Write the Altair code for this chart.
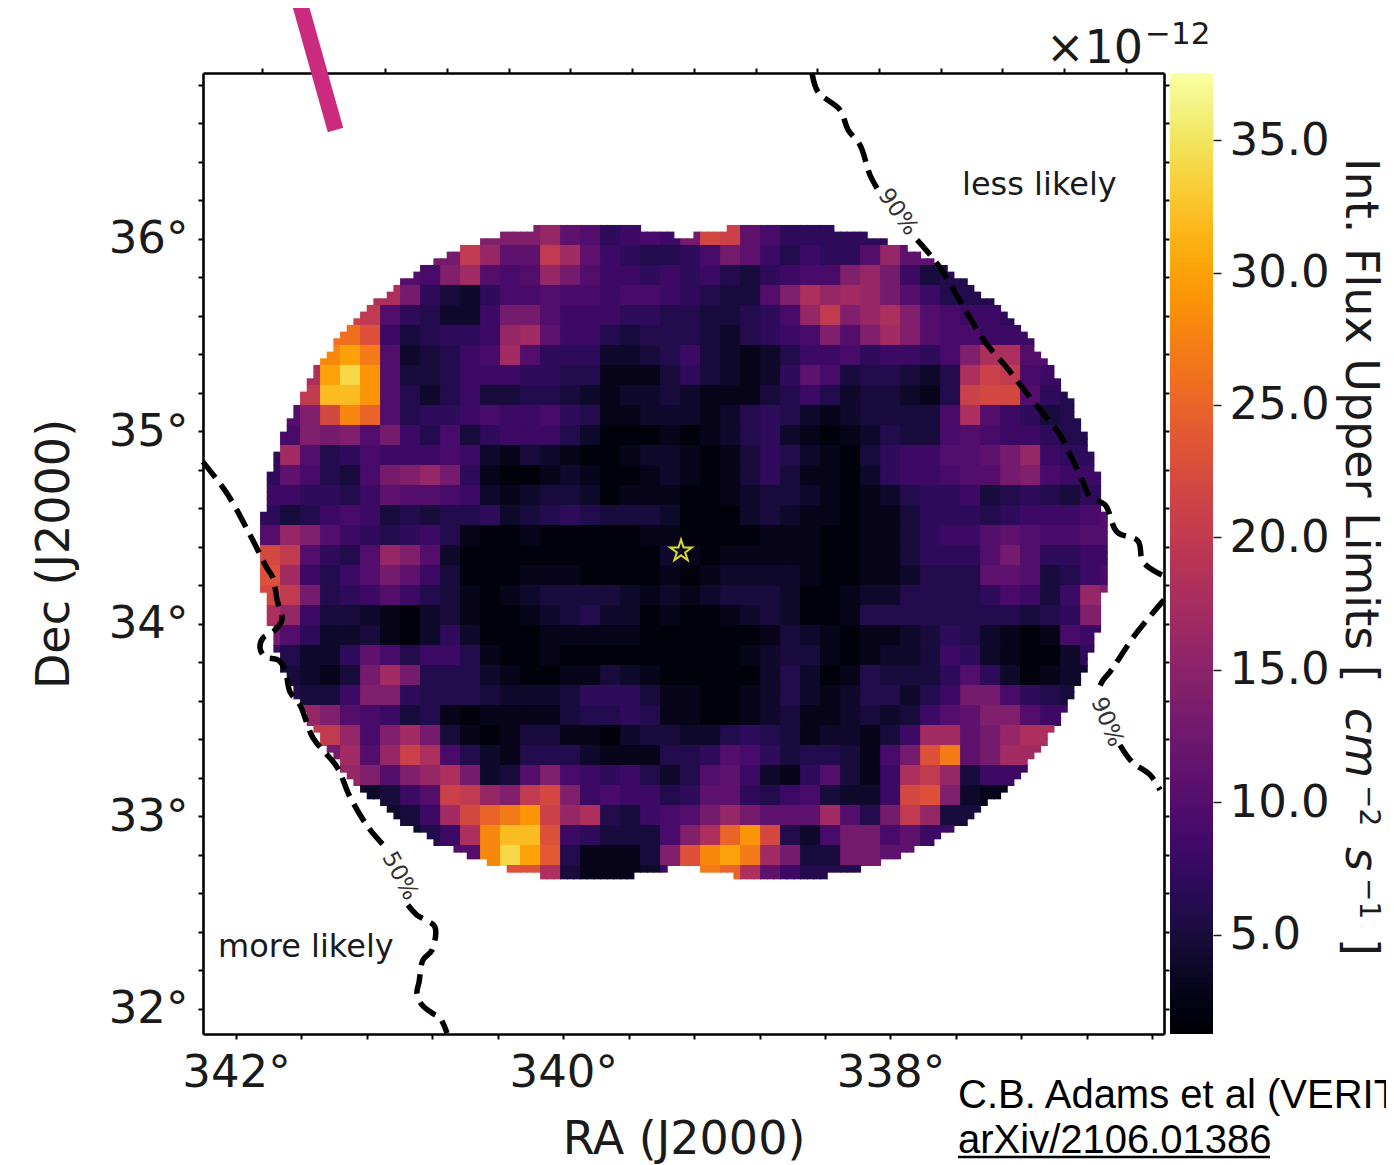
import altair as alt
import numpy as np
import pandas as pd

alt.data_transformers.disable_max_rows()

# ---- axes --------------------------------------------------------------
RA_DOMAIN = [342.2017, 336.328]
DEC_DOMAIN = [31.870, 36.862]
FLUX_DOMAIN = [1.26, 37.53]
RA_TICKS = [342, 341.6, 341.2, 340.8, 340.4, 340, 339.6, 339.2, 338.8, 338.4, 338, 337.6, 337.2, 336.8, 336.4]
RA_TOP_TICKS = [341.841, 341.464, 341.087, 340.710, 340.333, 339.956, 339.578, 339.201,
                338.824, 338.447, 338.070, 337.693, 337.316, 336.939, 336.562]
DEC_TICKS = [32, 32.2, 32.4, 32.6, 32.8, 33, 33.2, 33.4, 33.6, 33.8, 34, 34.2, 34.4, 34.6, 34.8,
             35, 35.2, 35.4, 35.6, 35.8, 36, 36.2, 36.4, 36.6, 36.8]
FLUX_TICKS = [5, 10, 15, 20, 25, 30, 35]

# ---- flux map: one base-36 digit per cell (flux in 1e-12 cm-2 s-1) ------
GRID_RA0, GRID_DEC0 = 341.853, 36.0727
CELL_RA, CELL_DEC = 0.12225, 0.1039
FLUX_START = [13, 9, 7, 6, 4, 4, 3, 2, 2, 1, 1, 0, 0, 0, 0, 0, 0, 0, 0, 0, 0, 0, 1, 1, 2, 2, 3, 4, 5, 6, 7, 10, 13]
FLUX_ROWS = [
    "egba7898dmlb9777",
    "dkgbbkhb876679db86877agb",
    "a9eha9agda887878657899egd856",
    "id754799a9989987655aeighgda866",
    "lka76448dd" "a888776655" "679gkegiea" "9887",
    "qn856778gh" "b886566654" "6789eaehea" "99888",
    "sura45689h" "a777445685" "4346889788" "79eiia",
    "iuyta55688" "8776633357" "54347b9566" "546ilk98",
    "kwwta64685" "5665434454" "3335686455" "436lmma76",
    "aemspa6778" "9889763344" "4346764345" "5559ia8756" "6",
    "9edead8695" "7888642223" "2346743234" "6559a98876" "6",
    "7ha6798889" "8435432234" "4323576432" "5788aabdg877",
    "7b9659degd" "7322343223" "4323575332" "47889aade988",
    "887768baa9" "8434554233" "3223455432" "3467785676578",
    "7568985656" "6745676555" "4222454332" "3357776788" "89a",
    "agea876786" "3223222223" "3222233322" "335788aba99aa",
    "mka76agea4" "2222222222" "4323333322" "335777ada7788",
    "nh868adb85" "2223332222" "3234444322" "334666bba5689",
    "mkd678a865" "3234555543" "4345554223" "4466667985" "8ge",
    "ig85543245" "3223456442" "3223454223" "66666666567e",
    "da74453247" "4222333332" "2222235432" "334576432398",
    "86447b9688" "6322322222" "2222345532" "344587432247",
    "5435dhd66" "6432233543" "2222246423" "65557a742344",
    "6558ee766" "6544457775" "3322346434" "66468dd9765",
    "gea98563" "2333356676" "3322345334" "5458abeea8",
    "kkg9ehd5" "3235533245" "5446765344" "358hhbdgi",
    "dhagli9" "6436664333" "667a975665" "39dnrbdh",
    "geaegi" "d45ae98786" "46ab8437a5" "38ikg58",
    "458al" "kgekme8988" "67bb768954" "48mne43",
    "458h" "mprtlgi658" "9adgdbbbha" "6dkg5",
    "468" "iswwn87555" "9eiptm649d" "d9b8",
    "asyuo63335" "ensurhd55d" "db",
    "ni53334" "8nrpib8666",
]

# two fields of view (mask of the map)
FOV_RA = [339.855, 338.675]
FOV_DEC = 34.379
FOV_R_RA, FOV_R_DEC = 1.9927, 1.7013

# ---- contours ----------------------------------------------------------
C90A_RA = [338.479, 338.443, 338.308, 338.259, 338.186, 338.125, 338.076]
C90A_DEC = [36.862, 36.764, 36.670, 36.566, 36.488, 36.332, 36.255]
C90B_RA = [337.837, 337.709, 337.532, 337.422, 337.287, 337.159, 337.024, 336.963, 336.921, 336.823,
           336.780, 336.688, 336.615, 336.487, 336.456, 336.328]
C90B_DEC = [35.995, 35.865, 35.616, 35.465, 35.330, 35.190, 35.049, 34.982, 34.914, 34.738,
            34.660, 34.618, 34.478, 34.431, 34.322, 34.249]
C90C_RA = [336.328, 336.505, 336.658, 336.700, 336.731]
C90C_DEC = [34.125, 33.943, 33.751, 33.709, 33.657]
C90D_RA = [336.597, 336.523, 336.413, 336.352]
C90D_DEC = [33.371, 33.283, 33.216, 33.138]
C50A_RA = [342.202, 342.049, 341.914, 341.811, 341.774, 341.749, 341.719, 341.774, 341.835, 341.853,
           341.823, 341.743, 341.700, 341.670, 341.609, 341.529, 341.383, 341.303, 341.193, 341.089]
C50A_DEC = [34.842, 34.670, 34.462, 34.291, 34.239, 34.125, 34.021, 33.958, 33.927, 33.875,
            33.829, 33.813, 33.761, 33.647, 33.579, 33.408, 33.257, 33.101, 32.945, 32.842]
C50B_RA = [340.949, 340.894, 340.839, 340.784, 340.802, 340.857, 340.881, 340.894, 340.863, 340.802, 340.753, 340.710]
C50B_DEC = [32.540, 32.488, 32.462, 32.426, 32.306, 32.255, 32.140, 32.083, 32.021, 31.979, 31.953, 31.875]
STAR_RA, STAR_DEC = [339.280], [34.379]

# ---- tables ------------------------------------------------------------
rows = []
sub_ra, sub_dec = CELL_RA / 3, CELL_DEC / 3
for j, (start, row) in enumerate(zip(FLUX_START, FLUX_ROWS)):
    for i in range(-1, 44):
        k = min(max(i - start, 0), len(row) - 1)
        flux = int(row[k], 36)
        for a in range(3):
            for b in range(3):
                ra0 = GRID_RA0 - (i + a / 3) * CELL_RA
                dec0 = GRID_DEC0 - (j + b / 3) * CELL_DEC
                rc, dc = ra0 - sub_ra / 2, dec0 - sub_dec / 2
                inside = any(((rc - c) / FOV_R_RA) ** 2 + ((dc - FOV_DEC) / FOV_R_DEC) ** 2 <= 1 for c in FOV_RA)
                if inside:
                    rows.append((round(ra0, 4), round(ra0 - sub_ra * 1.15, 4),
                                 round(dec0, 4), round(dec0 - sub_dec * 1.15, 4), flux))
cells = pd.DataFrame(rows, columns=["ra0", "ra1", "dec0", "dec1", "flux"])

segs = []
for name, ra, dec in [("a", C90A_RA, C90A_DEC), ("b", C90B_RA, C90B_DEC), ("c", C90C_RA, C90C_DEC),
                      ("d", C90D_RA, C90D_DEC), ("e", C50A_RA, C50A_DEC), ("f", C50B_RA, C50B_DEC)]:
    for n, (r, d) in enumerate(zip(ra, dec)):
        segs.append({"seg": name, "n": n, "ra": r, "dec": d})
contours = pd.DataFrame(segs)

W, H = 1378, 1157
x_scale = alt.Scale(domain=RA_DOMAIN, range=[195, 1156], nice=False, zero=False)
y_scale = alt.Scale(domain=DEC_DOMAIN, range=[1026, 65], nice=False, zero=False)
color_scale = alt.Scale(scheme="inferno", domain=FLUX_DOMAIN, nice=False, zero=False)

AXIS = dict(domainColor="black", domainWidth=2.6, tickColor="black", tickWidth=2, tickSize=5, grid=False,
            labelFont="DejaVu Sans", labelColor="#1a1a1a", labelFontSize=45, labelOverlap=False, labelBound=False,
            labelFlush=False, titleFont="DejaVu Sans", titleFontSize=46, titleFontWeight="normal", titleColor="#1a1a1a")

heat = alt.Chart(cells).mark_rect().encode(
    x=alt.X("ra0:Q", scale=x_scale, axis=alt.Axis(
        orient="bottom", offset=-131, values=RA_TICKS, title="RA (J2000)", titlePadding=22,
        labelPadding=11, labelExpr="datum.value % 2 === 0 ? datum.value + '°' : ''", **AXIS)),
    x2="ra1:Q",
    y=alt.Y("dec0:Q", scale=y_scale, axis=alt.Axis(
        orient="left", offset=-195, values=DEC_TICKS, title="Dec (J2000)", titlePadding=30,
        labelPadding=10, labelExpr="datum.value % 1 === 0 ? datum.value + '°' : ''", **AXIS)),
    y2="dec1:Q",
    color=alt.Color("flux:Q", scale=color_scale, legend=None),
)

frame = alt.Chart(pd.DataFrame({"ra": [338.0], "dec": [34.0]})).mark_point(opacity=0).encode(
    x=alt.X("ra:Q", scale=x_scale, axis=alt.Axis(
        orient="top", offset=-65, values=RA_TOP_TICKS, title=None, labels=False,
        domainColor="black", domainWidth=2.6, tickColor="black", tickWidth=2, tickSize=5, grid=False)),
    y=alt.Y("dec:Q", scale=y_scale, axis=alt.Axis(
        orient="right", offset=-222, values=DEC_TICKS, title=None, labels=False,
        domainColor="black", domainWidth=2.6, tickColor="black", tickWidth=2, tickSize=5, grid=False)),
)

lines = alt.Chart(contours).mark_line(color="black", strokeWidth=5.5, strokeDash=[20, 9], interpolate="catmull-rom").encode(
    x=alt.X("ra:Q", scale=x_scale, axis=None),
    y=alt.Y("dec:Q", scale=y_scale, axis=None),
    detail="seg:N",
    order="n:Q",
)

STAR_PATH = ("M0,-1L0.225,-0.309L0.951,-0.309L0.363,0.118L0.588,0.809L0,0.382"
             "L-0.588,0.809L-0.363,0.118L-0.951,-0.309L-0.225,-0.309Z")
star = alt.Chart(pd.DataFrame({"ra": STAR_RA, "dec": STAR_DEC})).mark_point(
    shape=STAR_PATH, size=520, filled=False, stroke="#d9d92e", strokeWidth=2, opacity=1
).encode(
    x=alt.X("ra:Q", scale=x_scale, axis=None),
    y=alt.Y("dec:Q", scale=y_scale, axis=None),
)


def label(text, x, y, size, color="#1a1a1a", angle=0, align="left", font="DejaVu Sans", style="normal", baseline="alphabetic"):
    return alt.Chart(pd.DataFrame({"t": [text]})).mark_text(
        fontSize=size, color=color, angle=angle, align=align, baseline=baseline, font=font, fontStyle=style
    ).encode(text="t:N", x=alt.value(x - 8), y=alt.value(y - 8))


texts = [
    label("less likely", 962, 195, 32),
    label("more likely", 218, 957, 32),
    label("90%", 898, 212, 23, color="#333333", angle=55, align="center", baseline="middle"),
    label("90%", 1107, 722, 23, color="#333333", angle=68, align="center", baseline="middle"),
    label("50%", 400, 876, 23, color="#333333", angle=62, align="center", baseline="middle"),
    label("×10", 1046, 63, 46),
    label("−12", 1145, 44, 31),
    label("Int. Flux Upper Limits [", 1346, 158, 46, angle=90),
    label("cm", 1346, 708, 46, angle=90, style="italic"),
    label("−2", 1360, 785, 28, angle=90),
    label("s", 1346, 847, 46, angle=90, style="italic"),
    label("−1", 1360, 878, 28, angle=90),
    label("]", 1346, 938, 46, angle=90),
    label("C.B. Adams et al (VERITAS", 958, 1108, 40, color="black", font="Liberation Sans"),
    label("arXiv/2106.01386", 958, 1153, 40, color="black", font="Liberation Sans"),
]
underline = alt.Chart(pd.DataFrame({"k": [0]})).mark_rule(color="black", strokeWidth=2.5).encode(
    x=alt.value(950), x2=alt.value(1262), y=alt.value(1149))
pink = alt.Chart(pd.DataFrame({"k": [0]})).mark_rule(color="#cb2a7f", strokeWidth=16).encode(
    x=alt.value(291), x2=alt.value(327.5), y=alt.value(-8), y2=alt.value(122))

main = alt.layer(heat, frame, lines, star, *texts, underline, pink).resolve_axis(x="independent", y="independent")

# ---- colour bar --------------------------------------------------------
bar_vals = np.arange(FLUX_DOMAIN[0], FLUX_DOMAIN[1], 0.1)
bar = pd.DataFrame({"v": bar_vals.round(3), "v2": np.minimum(bar_vals + 0.14, FLUX_DOMAIN[1]).round(3), "flux": (bar_vals + 0.05).round(3)})
flux_y = alt.Scale(domain=FLUX_DOMAIN, range=[1026, 65], nice=False, zero=False)
cbar = alt.Chart(bar).mark_rect().encode(
    x=alt.value(1162), x2=alt.value(1205),
    y=alt.Y("v:Q", scale=flux_y, axis=alt.Axis(
        orient="right", offset=-173, values=FLUX_TICKS, format=".1f", title=None, domain=False,
        tickColor="#1a1a1a", tickWidth=1.5, tickSize=8, labelPadding=8, labelFontSize=45,
        labelFont="DejaVu Sans", labelColor="#1a1a1a", grid=False, labelOverlap=False, labelBound=False, labelFlush=False)),
    y2="v2:Q",
    color=alt.Color("flux:Q", scale=color_scale, legend=None),
)

chart = alt.layer(main, cbar).resolve_scale(y="independent").resolve_axis(x="independent", y="independent").properties(
    width=W, height=H, padding=0, autosize=alt.AutoSizeParams(type="none"), background="white"
).configure_view(stroke=None)

chart.save("out.html", embed_options={"renderer": "svg", "actions": False})
